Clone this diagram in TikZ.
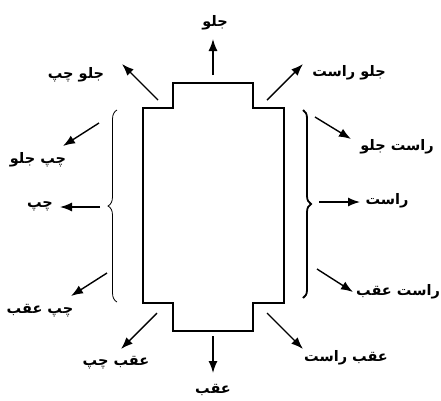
\documentclass[tikz,border=0pt]{standalone}
\usepackage{fontspec}
\newfontfamily\fafont[Script=Arabic]{DejaVu Sans}
\TeXXeTstate=1
\usetikzlibrary{arrows.meta,decorations.pathreplacing}
\newcommand{\fa}[1]{\fafont\bfseries\beginR #1\endR}

\begin{document}
\begin{tikzpicture}[x=1pt,y=-1pt,
    lbl/.style={font=\fontsize{14.5}{17}\selectfont, inner sep=0pt},
    dir/.style={line width=1.4pt, -{Latex[length=12pt,width=9pt]}}]
      \useasboundingbox (0,0) rectangle (441,400);
      \draw[line width=2.4pt, line join=miter] (173,83) -- (253,83) -- (253,108) -- (284,108) -- (284,303)
        -- (253,303) -- (253,331) -- (173,331) -- (173,303) -- (143,303) -- (143,108) -- (173,108) -- cycle;
      \draw[line width=0.8pt, decorate, decoration={brace,amplitude=9pt}] (117,302) -- (117,110);
      \draw[line width=1.8pt, decorate, decoration={brace,amplitude=8pt}] (303,110) -- (303,298);
      \coordinate (f1) at (213,75);  \coordinate (f2) at (213,39);
      \coordinate (fl1) at (158,100); \coordinate (fl2) at (122,64);
      \coordinate (lf1) at (99,123);  \coordinate (lf2) at (63,146);
      \coordinate (l1) at (100,207);  \coordinate (l2) at (60,207);
      \coordinate (lr1) at (107,273); \coordinate (lr2) at (71,296);
      \coordinate (rl1) at (157,313); \coordinate (rl2) at (121,349);
      \coordinate (b1) at (213,336);  \coordinate (b2) at (213,373);
      \coordinate (br1) at (267,313); \coordinate (br2) at (303,349);
      \coordinate (rb1) at (317,269); \coordinate (rb2) at (353,292);
      \coordinate (r1) at (319,202);  \coordinate (r2) at (360,202);
      \coordinate (rf1) at (315,117); \coordinate (rf2) at (351,139);
      \coordinate (fr1) at (267,100); \coordinate (fr2) at (303,64);
      \foreach \a in {f,fl,lf,l,lr,rl,b,br,rb,r,rf,fr}
        \draw[dir] (\a1) -- (\a2);
      \node[lbl] (front) at (215,23) {\fa{جلو}};
      \node[lbl] (frontleft) at (76,75) {\fa{جلو چپ}};
      \node[lbl] (leftfront) at (38,160) {\fa{چپ جلو}};
      \node[lbl] (left) at (40,206) {\fa{چپ}};
      \node[lbl] (leftback) at (40,311) {\fa{چپ عقب}};
      \node[lbl] (backleft) at (116,363) {\fa{عقب چپ}};
      \node[lbl] (back) at (213,390) {\fa{عقب}};
      \node[lbl] (backright) at (346,358) {\fa{عقب راست}};
      \node[lbl] (rightback) at (398,292) {\fa{راست عقب}};
      \node[lbl] (right) at (387,201) {\fa{راست}};
      \node[lbl] (rightfront) at (397,147) {\fa{راست جلو}};
      \node[lbl] (frontright) at (349,73) {\fa{جلو راست}};
    \end{tikzpicture}
\end{document}
